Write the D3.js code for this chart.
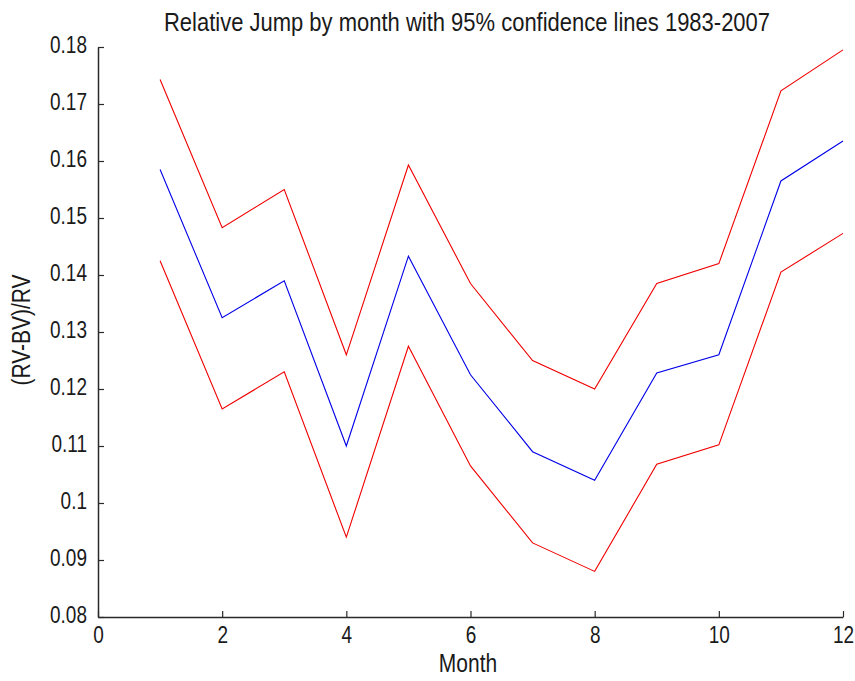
<html>
<head>
  <meta charset='utf-8' />
  <style>
    body { margin: 0; padding: 0; background: #fff; }
    text { font-family: 'Liberation Sans', Arial, sans-serif; fill: #1a1a1a; }
  </style>
</head>
<body>
  <svg width="855" height="681"></svg>
</body>
<script src="https://d3js.org/d3.v7.min.js"></script>
<script>
  // data
  months = [1, 2, 3, 4, 5, 6, 7, 8, 9, 10, 11, 12];
  meanJump = [0.1585, 0.1325, 0.1390, 0.1100, 0.1433, 0.1225, 0.1090, 0.1040, 0.1228, 0.1260, 0.1565, 0.1635];
  upperCI  = [0.1743, 0.1483, 0.1550, 0.1260, 0.1593, 0.1385, 0.1250, 0.1200, 0.1385, 0.1420, 0.1723, 0.1795];
  lowerCI  = [0.1425, 0.1165, 0.1230, 0.0940, 0.1275, 0.1065, 0.0930, 0.0880, 0.1068, 0.1102, 0.1405, 0.1473];
  xTicks = [0, 2, 4, 6, 8, 10, 12];
  yTicks = [0.08, 0.09, 0.1, 0.11, 0.12, 0.13, 0.14, 0.15, 0.16, 0.17, 0.18];

  svg = d3.select('svg');

  x = d3.scaleLinear().domain([0, 12]).range([98, 843]);
  y = d3.scaleLinear().domain([0.08, 0.18]).range([617, 47]);

  // axes, ticks pointing inward
  xAxis = d3.axisBottom(x).tickValues(xTicks).tickSizeInner(-6).tickSizeOuter(0).tickFormat(d3.format('d'));
  yAxis = d3.axisLeft(y).tickValues(yTicks).tickSizeInner(-6).tickSizeOuter(0).tickFormat(d => String(+d.toFixed(2)));

  gx = svg.append('g').attr('transform', 'translate(0,617)').call(xAxis);
  gy = svg.append('g').attr('transform', 'translate(98,0)').call(yAxis);

  [gx, gy].forEach(g => {
    g.select('.domain').attr('stroke', '#2a2a2a').attr('stroke-width', 1.5);
    g.selectAll('.tick line').attr('stroke', '#2a2a2a').attr('stroke-width', 1.2);
    g.selectAll('.tick text')
      .attr('x', 0).attr('y', 0).attr('dy', null)
      .style('font-size', '19px').style('fill', '#1a1a1a')
      .style('font-family', "'Liberation Sans', Arial, sans-serif");
  });
  // the original font is narrow and tall: stretch vertically
  gx.selectAll('.tick text').attr('text-anchor', 'middle').attr('transform', 'translate(0,26) scale(1,1.25)');
  gy.selectAll('.tick text').attr('text-anchor', 'end').attr('transform', 'translate(-11,5) scale(1,1.25)');

  line = d3.line()
    .x((d, i) => x(months[i]))
    .y(d => y(d));

  svg.append('path').datum(upperCI)
    .attr('fill', 'none').attr('stroke', '#f00000').attr('stroke-width', 1.1).attr('d', line);
  svg.append('path').datum(lowerCI)
    .attr('fill', 'none').attr('stroke', '#f00000').attr('stroke-width', 1.1).attr('d', line);
  svg.append('path').datum(meanJump)
    .attr('fill', 'none').attr('stroke', '#0000e8').attr('stroke-width', 1.1).attr('d', line);

  // titles
  svg.append('text')
    .attr('transform', 'translate(467,31) scale(1,1.15)')
    .attr('text-anchor', 'middle')
    .style('font-size', '22px')
    .text('Relative Jump by month with 95% confidence lines 1983-2007');

  svg.append('text')
    .attr('transform', 'translate(468,672) scale(1,1.2)')
    .attr('text-anchor', 'middle')
    .style('font-size', '21px')
    .text('Month');

  svg.append('text')
    .attr('transform', 'translate(30,330) rotate(-90) scale(1,1.2)')
    .attr('text-anchor', 'middle')
    .style('font-size', '21px')
    .text('(RV-BV)/RV');
</script>
</html>
